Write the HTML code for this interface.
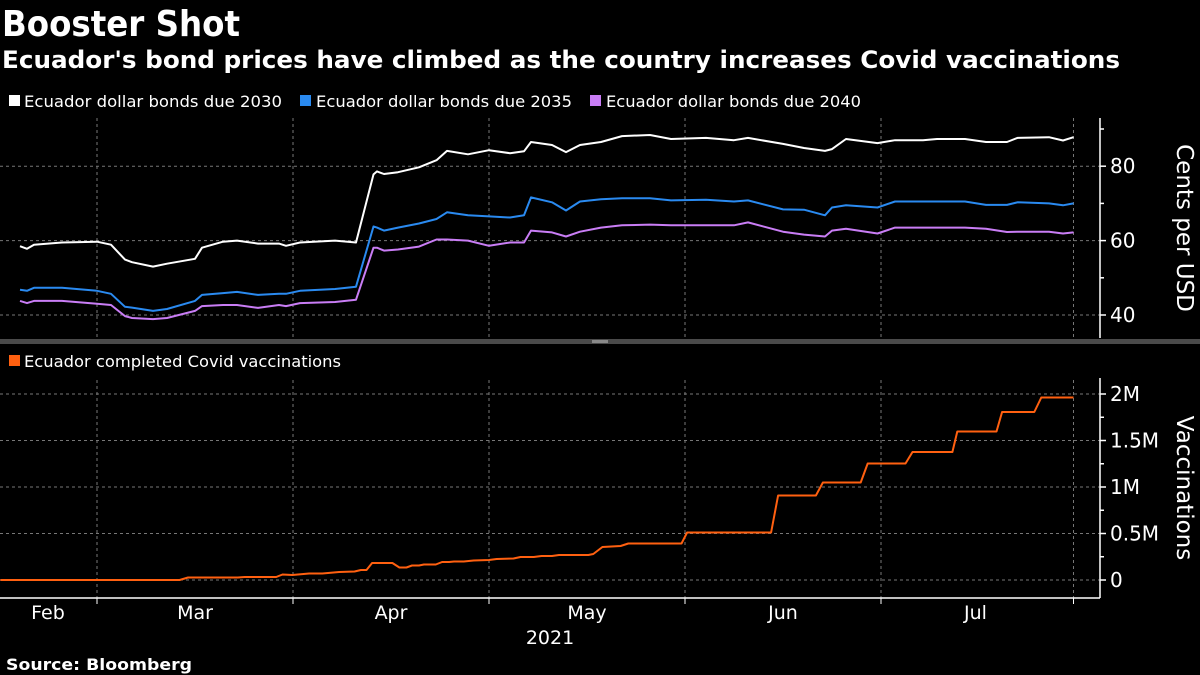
<!DOCTYPE html>
<html><head><meta charset="utf-8"><style>
html,body{margin:0;padding:0;background:#000;}
svg{display:block;}
text{font-family:"DejaVu Sans","Liberation Sans",sans-serif;fill:#fff;}
.b{font-family:"DejaVu Sans","Liberation Sans",sans-serif;font-weight:bold;}
</style></head><body>
<svg id="c" width="1200" height="675" viewBox="0 0 1200 675">
<text class="b" x="2" y="36" font-size="36" textLength="238" lengthAdjust="spacingAndGlyphs">Booster Shot</text>
<text class="b" x="2" y="68" font-size="24" textLength="1118" lengthAdjust="spacingAndGlyphs">Ecuador's bond prices have climbed as the country increases Covid vaccinations</text>
<g>
<rect x="9" y="95" width="11" height="11" fill="#fff"/>
<text x="24" y="107" font-size="16" textLength="258" lengthAdjust="spacingAndGlyphs">Ecuador dollar bonds due 2030</text>
<rect x="300" y="95" width="11" height="11" fill="#2a8af0"/>
<text x="316" y="107" font-size="16" textLength="256" lengthAdjust="spacingAndGlyphs">Ecuador dollar bonds due 2035</text>
<rect x="590" y="95" width="11" height="11" fill="#c97df5"/>
<text x="606" y="107" font-size="16" textLength="255" lengthAdjust="spacingAndGlyphs">Ecuador dollar bonds due 2040</text>
</g>
<rect x="0" y="339" width="1200" height="5" fill="#4a4a4a"/>
<rect x="592" y="340" width="16" height="3" fill="#888"/>
<g>
<rect x="9" y="355" width="11" height="11" fill="#ff6010"/>
<text x="24" y="367" font-size="16" textLength="317" lengthAdjust="spacingAndGlyphs">Ecuador completed Covid vaccinations</text>
</g>
<text x="0" y="0" font-size="23" transform="translate(1177,228) rotate(90)" text-anchor="middle">Cents per USD</text>
<text x="0" y="0" font-size="23" transform="translate(1177,488) rotate(90)" text-anchor="middle">Vaccinations</text>
<text x="550" y="644" font-size="19" text-anchor="middle">2021</text>
<text class="b" x="6" y="670" font-size="16" textLength="186" lengthAdjust="spacingAndGlyphs">Source: Bloomberg</text>
<g id="g"></g>
</svg>
<script>
// shared day index (day 0 ≈ Feb 1, 2021)
const bondDays = [-11,-10,-9,-5,0,2,4,5,8,10,14,15,18,20,23,26,27,29,34,37,39.5,40,41,43,46,48.5,50,53,56,59,61,62,65,67,69,72,75,79,82,87,91,93,98,101,104,105,107,111.5,114,118,120,124,127,130,131.5,136,138,139.5];
const bond2030 = [58.5,57.8,58.9,59.5,59.7,58.9,54.9,54.2,53.0,53.8,55.1,58.1,59.7,60.0,59.2,59.2,58.6,59.5,60.0,59.5,77.8,78.6,77.9,78.4,79.7,81.6,84.1,83.2,84.3,83.5,84.0,86.5,85.7,83.8,85.7,86.5,88.1,88.4,87.3,87.6,87.0,87.6,86.0,84.9,84.1,84.6,87.3,86.2,87.0,87.0,87.3,87.3,86.5,86.5,87.6,87.8,86.9,87.8];
const bond2035 = [46.8,46.5,47.3,47.3,46.5,45.7,42.2,42.0,41.1,41.6,43.8,45.4,45.9,46.2,45.4,45.7,45.7,46.5,47.0,47.6,63.8,63.5,62.7,63.5,64.6,65.8,67.6,66.8,66.5,66.2,66.8,71.6,70.3,68.1,70.5,71.1,71.4,71.4,70.8,71.0,70.5,70.8,68.4,68.3,66.8,68.9,69.5,68.9,70.5,70.5,70.5,70.5,69.6,69.6,70.3,70.0,69.5,70.0];
const bond2040 = [43.8,43.2,43.8,43.8,43.0,42.7,39.7,39.2,38.9,39.2,41.1,42.4,42.7,42.7,41.9,42.7,42.4,43.2,43.5,44.1,58.1,58.1,57.3,57.6,58.4,60.3,60.3,60.0,58.6,59.5,59.5,62.7,62.2,61.1,62.4,63.5,64.1,64.3,64.1,64.1,64.1,64.9,62.4,61.6,61.1,62.7,63.2,61.9,63.5,63.5,63.5,63.5,63.2,62.3,62.4,62.4,61.9,62.2];
const vaxDays = [-13.8,11.8,13,20.1,21.1,25.6,26.5,27.9,30.3,32.2,34.6,36.8,37.7,38.5,39.3,42.2,43.2,44.2,45,46,46.7,48.4,49.3,50.3,51,52.4,53.8,56,57.1,59.5,60.5,62.4,63.5,65,66,70.2,70.9,72.2,74.8,75.9,83.5,84.3,96.3,97.3,102.7,103.7,109.1,110.1,115.5,116.5,122.2,122.9,128.5,129.3,133.9,134.9,139.5];
const vaxM = [0,0,0.027,0.027,0.032,0.032,0.059,0.054,0.07,0.07,0.086,0.091,0.108,0.108,0.183,0.183,0.134,0.134,0.156,0.156,0.167,0.167,0.194,0.194,0.199,0.199,0.21,0.215,0.226,0.231,0.247,0.247,0.258,0.258,0.269,0.269,0.28,0.355,0.366,0.392,0.392,0.511,0.511,0.909,0.909,1.048,1.048,1.253,1.253,1.376,1.376,1.597,1.597,1.806,1.806,1.962,1.962];
const topTicks = [40,60,80];
const topMinor = [50,70,90];
const botTicks = [0,0.5,1,1.5,2];
const botTickLabels = ["0","0.5M","1M","1.5M","2M"];
const botMinor = [0.25,0.75,1.25,1.75];
const gridDays = [0,28,56,84,112,139.5];
const months = ["Feb","Mar","Apr","May","Jun","Jul"];
const monthPos = [-7,14,42,70,98,125.5];

const xS = d => 97 + d * 7.0;
const yT = v => 315 - (v - 40) * 3.72;
const yB = v => 580 - v * 93;
const NS = "http://www.w3.org/2000/svg";
const g = document.getElementById('g');
function mk(tag, attrs){const e=document.createElementNS(NS,tag);for(const k in attrs)e.setAttribute(k,attrs[k]);g.appendChild(e);return e;}
const dash = {stroke:'#777','stroke-width':1,'stroke-dasharray':'3,3'};

topTicks.forEach((v,i)=>{
  const l=mk('line',Object.assign({x1:0,x2:1100,y1:yT(v),y2:yT(v)},dash));
  
  
  const t=mk('line',{x1:1100,x2:1106,y1:yT(v),y2:yT(v),stroke:'#fff','stroke-width':1.5});
  
  
  const tx=mk('text',{x:1110,y:yT(v)+7,'font-size':20});
  tx.textContent=v;
  
  
});
topMinor.forEach(v=>{
  const t=mk('line',{x1:1100,x2:1104,y1:yT(v),y2:yT(v),stroke:'#fff','stroke-width':1.5});
  
  
});
botTicks.forEach((v,i)=>{
  const l=mk('line',Object.assign({x1:0,x2:1100,y1:yB(v),y2:yB(v)},dash));
  
  
  const t=mk('line',{x1:1100,x2:1106,y1:yB(v),y2:yB(v),stroke:'#fff','stroke-width':1.5});
  
  
  const tx=mk('text',{x:1110,y:yB(v)+7,'font-size':20});
  tx.textContent=botTickLabels[i];
  
  
});
botMinor.forEach(v=>{
  const t=mk('line',{x1:1100,x2:1104,y1:yB(v),y2:yB(v),stroke:'#fff','stroke-width':1.5});
  
  
});
gridDays.forEach(d=>{
  const a=mk('line',Object.assign({x1:xS(d),x2:xS(d),y1:118,y2:338},dash));
  
  
  const b=mk('line',Object.assign({x1:xS(d),x2:xS(d),y1:380,y2:598},dash));
  
  
  const t=mk('line',{x1:xS(d),x2:xS(d),y1:598,y2:604,stroke:'#fff','stroke-width':1});
  
  
});
months.forEach((m,i)=>{
  const t=mk('text',{x:xS(monthPos[i]),y:619,'font-size':19,'text-anchor':'middle'});
  t.textContent=m;
  
  
});
const ya=mk('line',{x1:1100,x2:1100,y1:118,y2:338,stroke:'#fff','stroke-width':1.5});


const yb=mk('line',{x1:1100,x2:1100,y1:378,y2:598,stroke:'#fff','stroke-width':1.5});


const xa=mk('line',{x1:0,x2:1100,y1:598,y2:598,stroke:'#fff','stroke-width':1.5});



function line(days, vals, ys){
  return days.map((d,i)=>xS(d).toFixed(1)+','+ys(vals[i]).toFixed(1)).join(' ');
}
const s1=mk('polyline',{points:line(bondDays,bond2030,yT),fill:'none',stroke:'#ffffff','stroke-width':2,'stroke-linejoin':'round'});


const s2=mk('polyline',{points:line(bondDays,bond2035,yT),fill:'none',stroke:'#2a8af0','stroke-width':2,'stroke-linejoin':'round'});


const s3=mk('polyline',{points:line(bondDays,bond2040,yT),fill:'none',stroke:'#c97df5','stroke-width':2,'stroke-linejoin':'round'});


const s4=mk('polyline',{points:line(vaxDays,vaxM,yB),fill:'none',stroke:'#ff6010','stroke-width':2,'stroke-linejoin':'round'});


</script>
</body></html>
